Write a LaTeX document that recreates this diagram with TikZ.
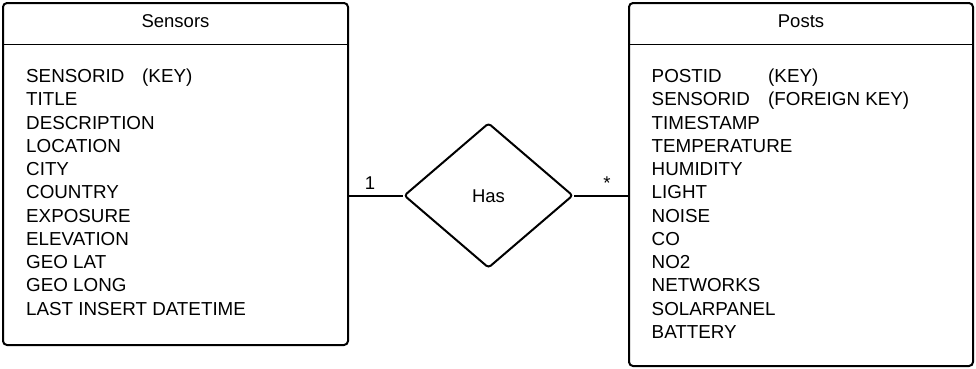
\documentclass[tikz,border=0pt]{standalone}
\usepackage{fontspec}
\setmainfont{Liberation Sans}
\usetikzlibrary{shapes.geometric,calc}
\begin{document}
\begin{tikzpicture}[x=1pt,y=-1pt,
  entity/.style={draw,line width=2pt,rounded corners=4pt,inner sep=0pt},
  divider/.style={line width=1.5pt},
  link/.style={line width=2pt},
  rel/.style={draw,diamond,line width=2pt,rounded corners=3pt,inner sep=0pt,
    minimum width=169pt,minimum height=145pt,font=\fontsize{18.5}{20}\selectfont},
  field/.style={anchor=base west,inner sep=0pt,font=\fontsize{18.8}{22}\selectfont},
  heading/.style={anchor=base,inner sep=0pt,font=\fontsize{18.5}{20}\selectfont},
  mult/.style={anchor=base,inner sep=0pt,font=\fontsize{18.5}{20}\selectfont}]
\useasboundingbox (0,0) rectangle (976,368);

% entity boxes
\node[entity,minimum width=345pt,minimum height=342pt] (sensors) at (175.5,174) {};
\node[entity,minimum width=344pt,minimum height=363pt] (posts) at (801,184.5) {};

% title bars
\draw[divider] (sensors.west |- 0,44.5) -- (sensors.east |- 0,44.5);
\draw[divider] (posts.west |- 0,44.5) -- (posts.east |- 0,44.5);
\node[heading] (sensorsTitle) at (175.5,27.5) {Sensors};
\node[heading] (postsTitle) at (801,27.5) {Posts};

% Sensors attributes
\foreach \txt [count=\i from 0] in {SENSORID,TITLE,DESCRIPTION,LOCATION,CITY,COUNTRY,EXPOSURE,ELEVATION,GEO LAT,GEO LONG,LAST INSERT DATETIME}
  \node[field] (s\i) at (26,82.5+23.25*\i) {\txt};
\node[field] (sKey) at (142,82.5) {(KEY)};

% Posts attributes
\foreach \txt [count=\i from 0] in {POSTID,SENSORID,TIMESTAMP,TEMPERATURE,HUMIDITY,LIGHT,NOISE,CO,NO2,NETWORKS,SOLARPANEL,BATTERY}
  \node[field] (p\i) at (651.5,82.5+23.25*\i) {\txt};
\node[field] (pKey) at (768,82.5) {(KEY)};
\node[field] (pFKey) at (768,105.75) {(FOREIGN KEY)};

% relationship
\node[rel] (has) at (488.5,195.5) {};
\node[heading] (hasLabel) at (488.5,202) {Has};
\draw[link] (has.west -| sensors.east) -- (has.west);
\draw[link] (has.east) -- (has.east -| posts.west);
\node[mult] (one) at (370,189) {1};
\node[mult] (many) at (607,189) {*};
\end{tikzpicture}
\end{document}
